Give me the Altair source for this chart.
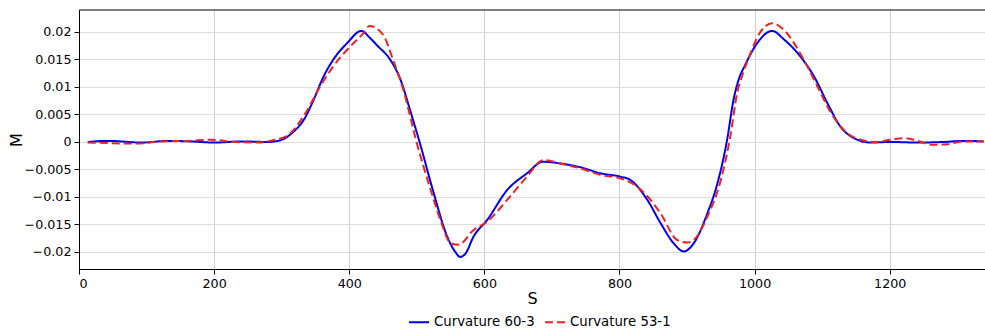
import altair as alt
import pandas as pd

series = ["Curvature 60-3", "Curvature 53-1"]

blue_s = [13, 43, 93, 132, 165, 201, 241, 280, 300, 315, 335, 347, 362, 376, 397, 418, 430, 441,
          461, 476, 490, 505, 525, 545, 557, 564, 572, 584, 604, 634, 663, 687, 712, 742, 772,
          801, 816, 841, 861, 880, 895, 910, 930, 945, 959, 969, 976, 986, 1004, 1026, 1043, 1068,
          1088, 1108, 1127, 1147, 1172, 1201, 1241, 1280, 1310, 1339]
blue_m = [0, 0.0002, -0.0001, 0.0002, 0.0001, -0.0001, 0.0001, 0, 0.0004, 0.0016, 0.0045,
          0.0076, 0.0119, 0.0149, 0.018, 0.0202, 0.0190, 0.0176, 0.0149, 0.0113, 0.0058,
          -0.0004, -0.0093, -0.0172, -0.0200, -0.0209, -0.0203, -0.0172, -0.0142, -0.0087,
          -0.0057, -0.0036, -0.0039, -0.0046, -0.0057, -0.0063, -0.0069, -0.0105, -0.0148,
          -0.0184, -0.0199, -0.0184, -0.013, -0.0075, 0.0002, 0.0078, 0.0112, 0.0140, 0.0180,
          0.0202, 0.0187, 0.0155, 0.0119, 0.007, 0.0028, 0.0007, -0.0001, 0, -0.0001, 0, 0.0002,
          0.0001]

red_s = [13, 43, 83, 122, 161, 196, 231, 265, 290, 310, 332, 357, 376, 401, 421, 430, 450, 465,
         480, 500, 520, 535, 550, 562, 584, 604, 634, 663, 687, 712, 742, 772, 801, 826, 861,
         885, 900, 910, 930, 950, 964, 974, 982, 992, 1006, 1026, 1043, 1073, 1093, 1113, 1137,
         1157, 1180, 1201, 1224, 1241, 1263, 1285, 1310, 1339]
red_m = [-0.0001, -0.0002, -0.0003, 0.0001, 0.0002, 0.0004, 0, -0.0001, 0.0004, 0.0013,
         0.0046, 0.0101, 0.0137, 0.0173, 0.0198, 0.0211, 0.0195, 0.0149, 0.0095, -0.0002,
         -0.0085, -0.0142, -0.0184, -0.0187, -0.016, -0.0145, -0.0105, -0.0063, -0.0033,
         -0.0039, -0.0048, -0.0060, -0.0066, -0.0081, -0.013, -0.0178, -0.0183, -0.0178,
         -0.0136, -0.0069, 0.001, 0.0088, 0.0122, 0.0155, 0.0195, 0.0216, 0.0204, 0.0149,
         0.0101, 0.0053, 0.0016, 0.0004, 0, 0.0004, 0.0007, 0.0002, -0.0005, -0.0004, 0.0001,
         0.0001]

x_ticks = [0, 200, 400, 600, 800, 1000, 1200]
y_ticks = [-0.02, -0.015, -0.01, -0.005, 0, 0.005, 0.01, 0.015, 0.02]

df = pd.concat([
    pd.DataFrame({"S": blue_s, "M": blue_m, "series": series[0]}),
    pd.DataFrame({"S": red_s, "M": red_m, "series": series[1]}),
], ignore_index=True)

FONT = "DejaVu Sans"

legend = alt.Legend(
    title=None, orient="none", legendX=329, legendY=301, direction="horizontal",
    symbolType="stroke", symbolSize=400, symbolStrokeWidth=2, labelFontSize=13.3,
    labelFont=FONT, labelColor="#000", labelOffset=4, columnPadding=6,
)

lines = alt.Chart(df).mark_line(strokeWidth=2, interpolate="monotone", clip=True).encode(
    x=alt.X("S:Q", scale=alt.Scale(domain=[0, 1341], nice=False, zero=False),
            axis=alt.Axis(values=x_ticks, title="S", gridColor="#cfcfcf", format="d",
                          titlePadding=1)),
    y=alt.Y("M:Q", scale=alt.Scale(domain=[-0.0231, 0.024], nice=False, zero=False),
            axis=alt.Axis(values=y_ticks, title="M", format="~g", gridColor="#dedede",
                          titlePadding=0)),
    color=alt.Color("series:N", scale=alt.Scale(domain=series, range=["#0000ee", "#ee2222"]),
                    legend=legend),
    strokeDash=alt.StrokeDash("series:N", scale=alt.Scale(domain=series, range=[[1, 0], [8, 4]]),
                              legend=legend),
)

top = alt.Chart(pd.DataFrame({"t": [0]})).mark_rule(color="black", strokeWidth=1).encode(
    y=alt.value(0)
)

chart = alt.layer(lines, top).properties(
    width=906, height=259,
    autosize=alt.AutoSizeParams(type="none"),
    padding={"left": 79, "top": 10, "right": 0, "bottom": 60},
).configure_view(stroke=None).configure_axis(
    domainColor="#000", domainWidth=1, tickColor="#000", tickSize=5, tickWidth=1,
    labelFont=FONT, labelFontSize=12.7, labelColor="#000", labelPadding=3,
    titleFont=FONT, titleFontSize=16, titleFontWeight="normal", titleColor="#000",
    grid=True, gridWidth=1,
)

chart.save("out.html", embed_options={"renderer": "svg", "actions": False})
